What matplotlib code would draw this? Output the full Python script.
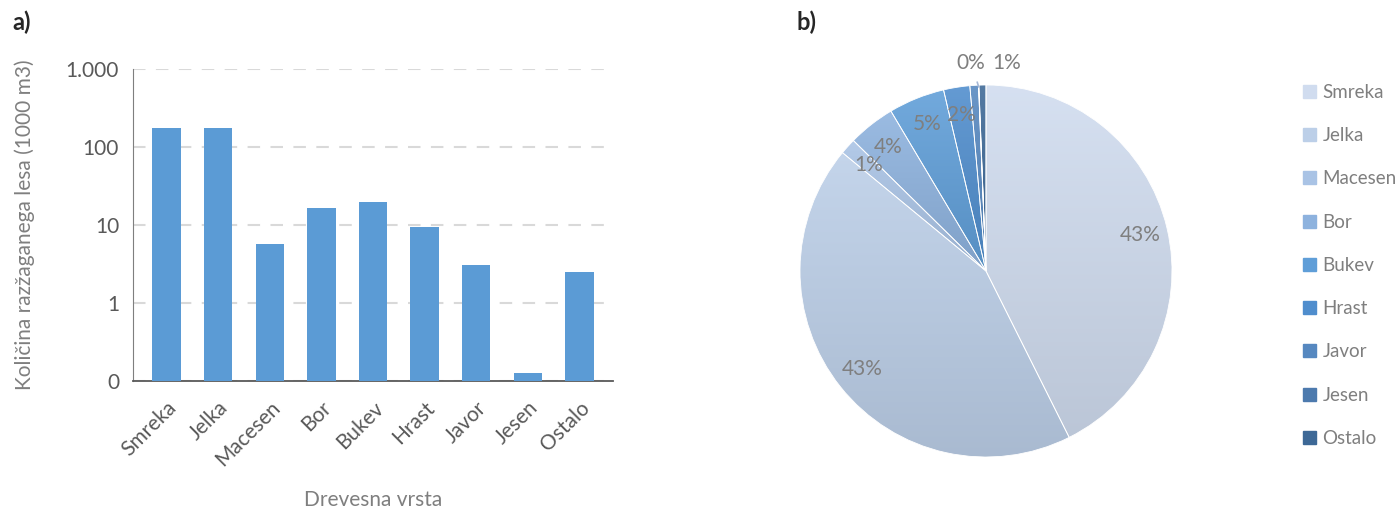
import numpy as np
import matplotlib
matplotlib.use("Agg")
import matplotlib.pyplot as plt
import matplotlib.colors as mcolors

plt.rcParams['font.family'] = ['Lato', 'DejaVu Sans']

species = ["Smreka", "Jelka", "Macesen", "Bor", "Bukev", "Hrast", "Javor", "Jesen", "Ostalo"]
volume = [174, 177, 5.7, 16.7, 19.9, 9.3, 3.04, 0.125, 2.5]  # 1000 m3
yticks = [0.1, 1, 10, 100, 1000]
ytick_labels = ["0", "1", "10", "100", "1.000"]
pie_colors = ["#d0dcef", "#bccfe8", "#a9c3e5", "#8db2de", "#5f9ed8",
              "#4f8dcd", "#5688c0", "#4d7aae", "#3d6896"]

TXT = "#595959"
LBL = "#7f7f7f"
BAR = "#5b9bd5"
FS = 15

fig = plt.figure(figsize=(14, 5.11), dpi=100)

# ---- a) bar chart, log scale
ax = fig.add_axes([133/1400, 130/511, 480/1400, 312/511])
x = np.arange(len(species))
ax.bar(x, volume, width=0.55, color=BAR, zorder=3)
ax.set_yscale("log")
ax.set_ylim(0.1, 1000)
ax.set_xlim(-0.65, len(species) - 0.35)
ax.set_yticks(yticks)
ax.set_yticklabels(ytick_labels)
ax.yaxis.set_minor_locator(matplotlib.ticker.NullLocator())
ax.set_xticks(x)
ax.set_xticklabels(species, rotation=45, ha="right", rotation_mode="anchor")
ax.tick_params(length=0, labelsize=FS, colors=TXT, pad=10)
ax.tick_params(axis="x", pad=12)
ax.grid(axis="y", color="#d9d9d9", linestyle=(0, (6, 5)), linewidth=1.5, zorder=0)
for s in ["top", "right"]:
    ax.spines[s].set_visible(False)
ax.spines["left"].set_color("#7f7f7f")
ax.spines["bottom"].set_color("#595959")
ax.spines["bottom"].set_linewidth(1.3)
ax.set_ylabel("Količina razžaganega lesa (1000 m3)", fontsize=FS, color=LBL, labelpad=22)
ax.set_xlabel("Drevesna vrsta", fontsize=FS, color=LBL, labelpad=14)

fig.text(12/1400, 1 - 22/511, "a)", fontsize=17, fontweight="bold", va="center", color="#262626")
fig.text(797/1400, 1 - 22/511, "b)", fontsize=17, fontweight="bold", va="center", color="#262626")

# ---- b) pie chart
pax = fig.add_axes([800/1400, 54/511, 372/1400, 372/511])
total = sum(volume)
wedges, _ = pax.pie(volume, colors=pie_colors, startangle=90, counterclock=False,
                    wedgeprops=dict(edgecolor="white", linewidth=0.6))

# vertical gradient inside each wedge (light on top, darker at the bottom)
for w, c in zip(wedges, pie_colors):
    rgb = np.array(mcolors.to_rgb(c))
    top = rgb + (1 - rgb) * 0.12
    bot = rgb * 0.9
    t = np.linspace(0, 1, 256)[:, None]
    grad = top[None, :] * (1 - t) + bot[None, :] * t
    grad = np.repeat(grad[:, None, :], 2, axis=1)
    bb = w.get_path().get_extents(w.get_patch_transform())
    im = pax.imshow(grad, extent=[bb.x0, bb.x1, bb.y0, bb.y1], origin="upper",
                    aspect="auto", zorder=w.get_zorder(), interpolation="bilinear")
    im.set_clip_path(w)
    w.set_facecolor("none")
    w.set_zorder(w.get_zorder() + 0.1)
pax.set_xlim(-1.0, 1.0)
pax.set_ylim(-1.0, 1.0)
pax.set_aspect("equal")

pct = [v / total * 100 for v in volume]
cum = 0
for name, p in zip(species, pct):
    mid = (cum + p / 2) / 100 * 2 * np.pi
    cum += p
    lbl = f"{p:.0f}%"
    dx, dy = np.sin(mid), np.cos(mid)
    if name == "Javor":
        continue
    if name == "Jesen":
        pax.annotate(lbl, xy=(dx * 0.99, dy * 0.99), xytext=(-0.08, 1.12),
                     ha="center", va="center", fontsize=FS, color=LBL,
                     arrowprops=dict(arrowstyle="-", color="#a6b8d6", lw=1.2,
                                     shrinkA=5, shrinkB=0),
                     annotation_clip=False)
    elif name == "Ostalo":
        pax.text(0.11, 1.12, lbl, ha="center", va="center", fontsize=FS, color=LBL)
    else:
        d = 0.85
        pax.text(dx * d, dy * d, lbl, ha="center", va="center", fontsize=FS, color=LBL)

handles = [plt.Rectangle((0, 0), 1, 1, color=c) for c in pie_colors]
fig.legend(handles, species, loc="upper left", bbox_to_anchor=(1286/1400, 1 - 67/511),
           frameon=False, fontsize=13.5, labelcolor=LBL, handlelength=0.7,
           handleheight=0.7, handletextpad=0.35, labelspacing=1.4)

fig.savefig("out.png", dpi=100)
